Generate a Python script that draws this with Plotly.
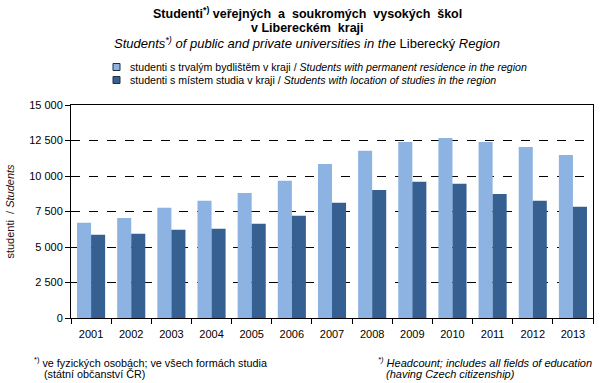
import plotly.graph_objects as go

years = ["2001", "2002", "2003", "2004", "2005", "2006", "2007",
         "2008", "2009", "2010", "2011", "2012", "2013"]
residence = [6700, 7050, 7760, 8250, 8810, 9660, 10850,
             11770, 12400, 12680, 12400, 12050, 11480]
study_location = [5860, 5930, 6210, 6280, 6630, 7200, 8110,
                  9020, 9590, 9450, 8740, 8250, 7830]
y_ticks = [0, 2500, 5000, 7500, 10000, 12500, 15000]

name_res = "studenti s trvalým bydlištěm v kraji / <i>Students with permanent residence in the region</i>"
name_loc = "studenti s místem studia v kraji / <i>Students with location of studies in the region</i>"
colors = ["#8DB3E2", "#366092"]

FONT = "Liberation Sans, Arial, sans-serif"
L, R, T, B = 71, 593, 105, 318
W, H = 601, 383


def px(x):
    return (x - L) / (R - L)


def py(y):
    return (B - y) / (B - T)


fig = go.Figure()
fig.add_trace(go.Bar(x=years, y=residence, name=name_res,
                     marker=dict(color=colors[0], line=dict(width=0))))
fig.add_trace(go.Bar(x=years, y=study_location, name=name_loc,
                     marker=dict(color=colors[1], line=dict(width=0))))

fig.update_layout(
    width=W, height=H,
    margin=dict(l=L, r=W - R, t=T, b=H - B, autoexpand=False),
    paper_bgcolor="white", plot_bgcolor="white",
    font=dict(family=FONT, size=11, color="black"),
    separators=", ",
    barmode="group", bargap=0.3, bargroupgap=0,
    showlegend=False,
    xaxis=dict(type="category", tickson="boundaries", ticks="outside",
               ticklen=5, tickcolor="black", showline=True, linecolor="black",
               linewidth=1, mirror=True, showgrid=False,
               tickfont=dict(size=11), ticklabelstandoff=6),
    yaxis=dict(range=[0, 15000], tickvals=y_ticks, tickformat=",d",
               ticks="outside", ticklen=5, tickcolor="black",
               showline=True, linecolor="black", linewidth=1, mirror=True,
               showgrid=True, gridcolor="black", griddash="dash", gridwidth=1,
               zeroline=False, tickfont=dict(size=11),
               title=dict(text="studenti  / <i>Students</i>",
                          font=dict(size=11, color="#2a0a0a"), standoff=12)),
)

titles = [
    ("<b>Studenti<sup>*)</sup> veřejných  a  soukromých  vysokých  škol</b>", 13.5, 12.5),
    ("<b>v Libereckém  kraji</b>", 28, 12.5),
    ("<i>Students<sup>*)</sup> of public and private universities in the</i> Liberecký <i>Region</i>", 43, 13),
]
for text, ypx, size in titles:
    fig.add_annotation(text=text, xref="paper", yref="paper",
                       x=px(307), y=py(ypx),
                       xanchor="center", yanchor="middle", showarrow=False,
                       font=dict(size=size, family=FONT, color="black"))

# manual legend
for i, (name, yc) in enumerate([(name_res, 67), (name_loc, 80)]):
    fig.add_shape(type="rect", xref="paper", yref="paper",
                  x0=px(113), x1=px(120), y0=py(yc - 3.5), y1=py(yc + 3.5),
                  fillcolor=colors[i], line=dict(color="#1f2f45", width=1))
    fig.add_annotation(text=name, xref="paper", yref="paper",
                       x=px(128), y=py(yc), xanchor="left", yanchor="middle",
                       showarrow=False,
                       font=dict(size=10.6, family=FONT, color="black"))

notes = [
    ("<sup>*)</sup> ve fyzických osobách; ve všech formách studia", 32, 362, 10.8),
    ("(státní občanství ČR)", 42, 374, 10.8),
    ("<i><sup>*)</sup> Headcount; includes all fields of education</i>", 376, 362, 11),
    ("<i>(having Czech citizenship)</i>", 384, 374, 11),
]
for text, xpx, ypx, size in notes:
    fig.add_annotation(text=text, xref="paper", yref="paper",
                       x=px(xpx), y=py(ypx),
                       xanchor="left", yanchor="middle", showarrow=False,
                       font=dict(size=size, family=FONT, color="black"))

fig.write_html("out.html",
               config={"displayModeBar": False},
               post_script="document.body.style.margin='0';document.body.style.overflow='hidden';")
